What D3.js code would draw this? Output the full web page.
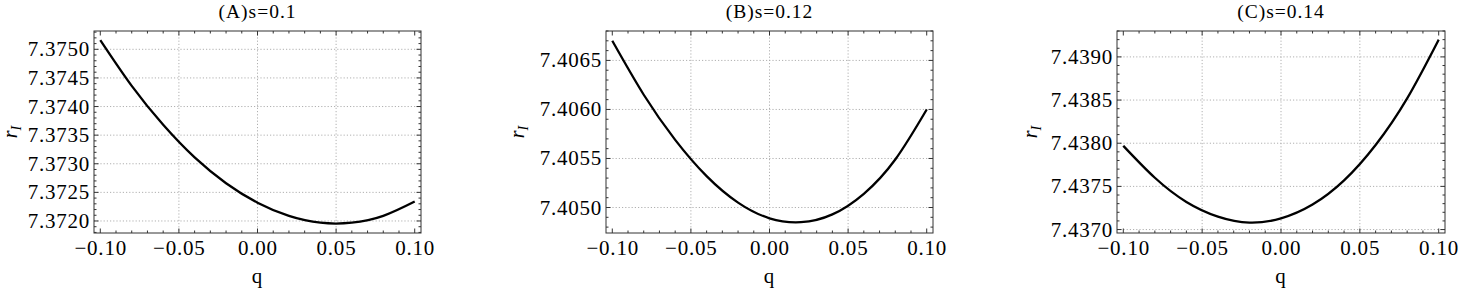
<!DOCTYPE html>
<html lang="en">
<head>
<meta charset="UTF-8">
<title>r_I vs q</title>
<script src="https://d3js.org/d3.v7.min.js"></script>
<style>
  body { margin: 0; background: #fff; }
  svg text { font-family: "Liberation Serif", "Times New Roman", "DejaVu Serif", serif; fill: #000; }
  .lbl { font-size: 21px; letter-spacing: 0.8px; }
  .ttl { font-size: 19.5px; letter-spacing: 1px; }
</style>
</head>
<body>
<script>
// data
const qVals = [-0.10, -0.08, -0.06, -0.04, -0.02, 0.00, 0.02, 0.04, 0.06, 0.08, 0.10];
const rA = [7.37516, 7.37436, 7.37368, 7.37311, 7.37266, 7.37232, 7.37209, 7.37197, 7.37197, 7.37209, 7.37234];
const rB = [7.40670, 7.40615, 7.40569, 7.40532, 7.40505, 7.40489, 7.40485, 7.40493, 7.40514, 7.40549, 7.40600];
const rC = [7.43797, 7.43760, 7.43732, 7.43715, 7.43708, 7.43713, 7.43729, 7.43757, 7.43798, 7.43852, 7.43920];
const titles = ["(A)s=0.1", "(B)s=0.12", "(C)s=0.14"];
const xTicks = [-0.10, -0.05, 0.00, 0.05, 0.10];
const yTicksA = [7.3720, 7.3725, 7.3730, 7.3735, 7.3740, 7.3745, 7.3750];
const yTicksB = [7.4050, 7.4055, 7.4060, 7.4065];
const yTicksC = [7.4370, 7.4375, 7.4380, 7.4385, 7.4390];

const W = 1459, H = 294;
const plotTop = 31, plotBottom = 233;

// panel layout
const panels = [
  {title: titles[0], r: rA, yTicks: yTicksA, left: 94,   right: 421,  yDom: [7.37179, 7.37532], labX: 17},
  {title: titles[1], r: rB, yTicks: yTicksB, left: 606,  right: 933,  yDom: [7.40474, 7.40680], labX: 524},
  {title: titles[2], r: rC, yTicks: yTicksC, left: 1117, right: 1445, yDom: [7.43696, 7.43930], labX: 1037}
];

const svg = d3.select("body").append("svg")
  .attr("width", W).attr("height", H);

panels.forEach(p => {
  const x = d3.scaleLinear().domain([-0.104, 0.104]).range([p.left, p.right]);
  const y = d3.scaleLinear().domain(p.yDom).range([plotBottom, plotTop]);
  const g = svg.append("g");

  // grid lines (dotted)
  const grid = g.append("g").attr("stroke", "#b0b0b0").attr("stroke-width", 1)
    .attr("stroke-dasharray", "1.2,2");
  grid.selectAll("line.gx").data(xTicks.filter(t => Math.abs(t) < 0.09)).enter()
    .append("line")
    .attr("x1", d => x(d)).attr("x2", d => x(d))
    .attr("y1", plotTop).attr("y2", plotBottom);
  grid.selectAll("line.gy").data(p.yTicks).enter()
    .append("line")
    .attr("x1", p.left).attr("x2", p.right)
    .attr("y1", d => y(d)).attr("y2", d => y(d));

  // curve
  const line = d3.line().x((d, i) => x(qVals[i])).y(d => y(d)).curve(d3.curveNatural);
  g.append("path").datum(p.r)
    .attr("fill", "none").attr("stroke", "#000").attr("stroke-width", 2.3)
    .attr("d", line);

  // frame
  g.append("rect")
    .attr("x", p.left).attr("y", plotTop)
    .attr("width", p.right - p.left).attr("height", plotBottom - plotTop)
    .attr("fill", "none").attr("stroke", "#333").attr("stroke-width", 1);

  // inward ticks on all four sides
  const xMinor = d3.range(-10, 11).map(k => k / 100);
  const yMinor = d3.range(Math.ceil(p.yDom[0] * 10000), Math.floor(p.yDom[1] * 10000) + 1).map(k => k / 10000);
  const isMajX = v => xTicks.some(t => Math.abs(t - v) < 1e-9);
  const isMajY = v => p.yTicks.some(t => Math.abs(t - v) < 1e-9);
  const tk = g.append("g").attr("stroke", "#333").attr("stroke-width", 1);
  xMinor.forEach(v => {
    const len = isMajX(v) ? 4.5 : 2.5;
    tk.append("line").attr("x1", x(v)).attr("x2", x(v)).attr("y1", plotBottom).attr("y2", plotBottom - len);
    tk.append("line").attr("x1", x(v)).attr("x2", x(v)).attr("y1", plotTop).attr("y2", plotTop + len);
  });
  yMinor.forEach(v => {
    const len = isMajY(v) ? 4.5 : 2.5;
    tk.append("line").attr("y1", y(v)).attr("y2", y(v)).attr("x1", p.left).attr("x2", p.left + len);
    tk.append("line").attr("y1", y(v)).attr("y2", y(v)).attr("x1", p.right).attr("x2", p.right - len);
  });

  // tick labels
  const fx = d3.format(".2f"), fy = d3.format(".4f");
  g.selectAll("text.xl").data(xTicks).enter().append("text")
    .attr("class", "lbl")
    .attr("x", d => x(d) + 0.4).attr("y", 255)
    .attr("text-anchor", "middle")
    .text(d => fx(d));
  g.selectAll("text.yl").data(p.yTicks).enter().append("text")
    .attr("class", "lbl")
    .attr("x", p.left - 3.8).attr("y", d => y(d) + 7)
    .attr("text-anchor", "end")
    .text(d => fy(d));

  // title
  g.append("text").attr("class", "ttl")
    .attr("x", (p.left + p.right) / 2).attr("y", 18)
    .attr("text-anchor", "middle")
    .text(p.title);

  // x axis label
  g.append("text").attr("class", "lbl")
    .attr("x", (p.left + p.right) / 2).attr("y", 283)
    .attr("text-anchor", "middle")
    .text("q");

  // y axis label r_I
  const yl = g.append("text")
    .attr("transform", `translate(${p.labX},${(plotTop + plotBottom) / 2}) rotate(-90)`)
    .attr("text-anchor", "middle")
    .style("font-size", "20px").style("font-style", "italic");
  yl.append("tspan").text("r");
  yl.append("tspan").attr("dy", 4).style("font-size", "14px").text("I");
});
</script>
</body>
</html>
